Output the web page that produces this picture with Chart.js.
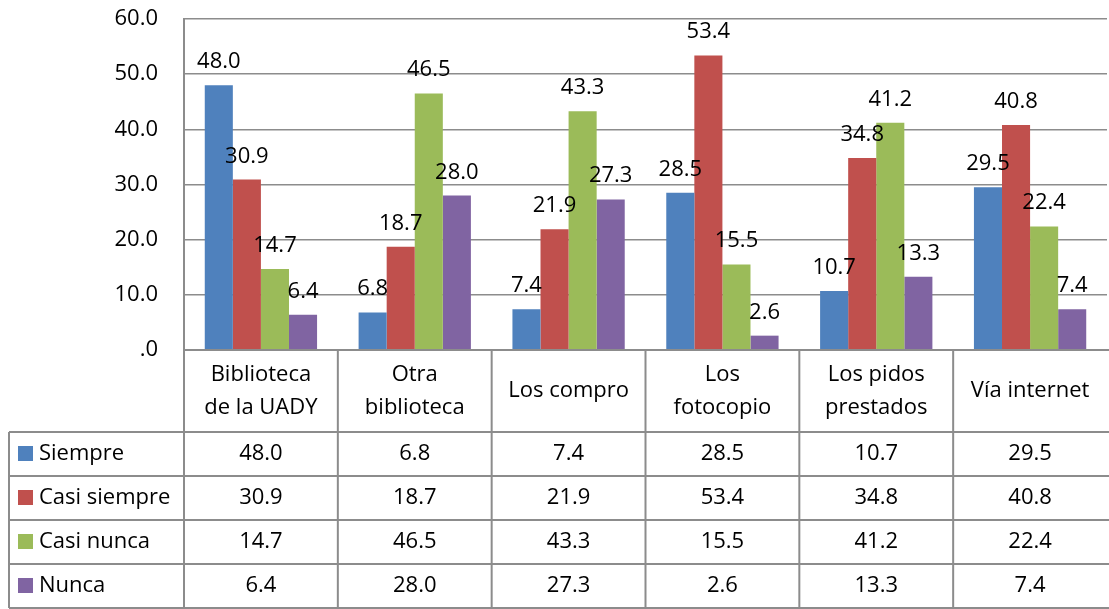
<!DOCTYPE html>
<html>
<head>
<meta charset="utf-8">
<script src="https://cdn.jsdelivr.net/npm/chart.js@4.4.1/dist/chart.umd.min.js"></script>
<style>
  html, body { margin: 0; padding: 0; background: #fff; }
  #wrap { width: 1109px; height: 609px; }
</style>
</head>
<body>
<div id="wrap"><canvas id="chart" width="1109" height="609"></canvas></div>
<script>
const categories = [['Biblioteca', 'de la UADY'], ['Otra', 'biblioteca'], ['Los compro'], ['Los', 'fotocopio'], ['Los pidos', 'prestados'], ['Vía internet']];
const seriesNames = ['Siempre', 'Casi siempre', 'Casi nunca', 'Nunca'];
const siempre = [48.0, 6.8, 7.4, 28.5, 10.7, 29.5];
const casiSiempre = [30.9, 18.7, 21.9, 53.4, 34.8, 40.8];
const casiNunca = [14.7, 46.5, 43.3, 15.5, 41.2, 22.4];
const nunca = [6.4, 28.0, 27.3, 2.6, 13.3, 7.4];
const colors = ['#4F81BD', '#C0504D', '#9BBB59', '#8064A2'];
const yMax = 60;
const yStep = 10;

const FONT = '"Open Sans", sans-serif';
const FSIZE = 22;
const seriesValues = [siempre, casiSiempre, casiNunca, nunca];

// etiquetas encima de cada barra
const barLabels = {
  id: 'barLabels',
  afterDatasetsDraw(chart) {
    const ctx = chart.ctx;
    ctx.save();
    ctx.font = FSIZE + 'px ' + FONT;
    ctx.fillStyle = '#000';
    ctx.textAlign = 'center';
    ctx.textBaseline = 'alphabetic';
    chart.data.datasets.forEach((ds, i) => {
      chart.getDatasetMeta(i).data.forEach((bar, j) => {
        ctx.fillText(ds.data[j].toFixed(1), bar.x, bar.y - 17);
      });
    });
    ctx.restore();
  }
};

// tabla de datos debajo del gráfico
const dataTable = {
  id: 'dataTable',
  afterDraw(chart) {
    const ctx = chart.ctx;
    const area = chart.chartArea;
    const n = categories.length;
    const colW = area.width / n;
    const headTop = area.bottom;
    const headBot = area.bottom + 82;
    const rowH = 44;
    const tableLeft = 9;
    const right = chart.width;

    ctx.save();
    ctx.strokeStyle = '#8c8c8c';
    ctx.lineWidth = 2;

    // líneas horizontales
    ctx.beginPath();
    ctx.moveTo(area.left, headTop);
    ctx.lineTo(right, headTop);
    for (let r = 0; r <= seriesNames.length; r++) {
      const y = headBot + r * rowH;
      ctx.moveTo(tableLeft, y);
      ctx.lineTo(right, y);
    }
    // líneas verticales
    for (let c = 0; c < n; c++) {
      const x = area.left + c * colW;
      ctx.moveTo(x, headTop);
      ctx.lineTo(x, headBot + seriesNames.length * rowH);
    }
    ctx.moveTo(tableLeft, headBot);
    ctx.lineTo(tableLeft, headBot + seriesNames.length * rowH);
    ctx.stroke();

    ctx.fillStyle = '#000';
    ctx.font = FSIZE + 'px ' + FONT;
    ctx.textAlign = 'center';
    ctx.textBaseline = 'middle';

    // cabecera con categorías
    categories.forEach((lines, c) => {
      const cx = area.left + c * colW + colW / 2;
      const cy = (headTop + headBot) / 2;
      const lh = 33;
      lines.forEach((t, k) => {
        ctx.fillText(t, cx, cy + (k - (lines.length - 1) / 2) * lh);
      });
    });

    // filas de series
    seriesNames.forEach((name, r) => {
      const cy = headBot + r * rowH + rowH / 2;
      ctx.fillStyle = colors[r];
      ctx.fillRect(18, cy - 8, 15, 15);
      ctx.fillStyle = '#000';
      ctx.textAlign = 'left';
      ctx.fillText(name, 39, cy);
      ctx.textAlign = 'center';
      seriesValues[r].forEach((v, c) => {
        const cx = area.left + c * colW + colW / 2;
        ctx.fillText(v.toFixed(1), cx, cy);
      });
    });
    ctx.restore();
  }
};

const ctx = document.getElementById('chart').getContext('2d');

new Chart(ctx, {
  type: 'bar',
  data: {
    labels: categories.map(l => l.join(' ')),
    datasets: seriesNames.map((name, i) => ({
      label: name,
      data: seriesValues[i],
      backgroundColor: colors[i],
      categoryPercentage: 0.73,
      barPercentage: 1.0,
    })),
  },
  options: {
    responsive: false,
    animation: false,
    layout: { padding: { top: 19, right: 2, bottom: 259, left: 0 } },
    plugins: {
      legend: { display: false },
      tooltip: { enabled: false },
    },
    scales: {
      x: { display: false },
      y: {
        min: 0,
        max: yMax,
        afterFit(scale) {
          scale.width = 184;
          scale.paddingTop = 0;
          scale.paddingBottom = 0;
        },
        border: { color: '#8c8c8c', width: 2 },
        grid: { color: '#8c8c8c', lineWidth: 1.5, drawTicks: false },
        ticks: {
          stepSize: yStep,
          padding: 26,
          color: '#000',
          font: { family: FONT, size: FSIZE },
          callback: v => v === 0 ? '.0' : v.toFixed(1),
        },
      },
    },
  },
  plugins: [barLabels, dataTable],
});
</script>
</body>
</html>
